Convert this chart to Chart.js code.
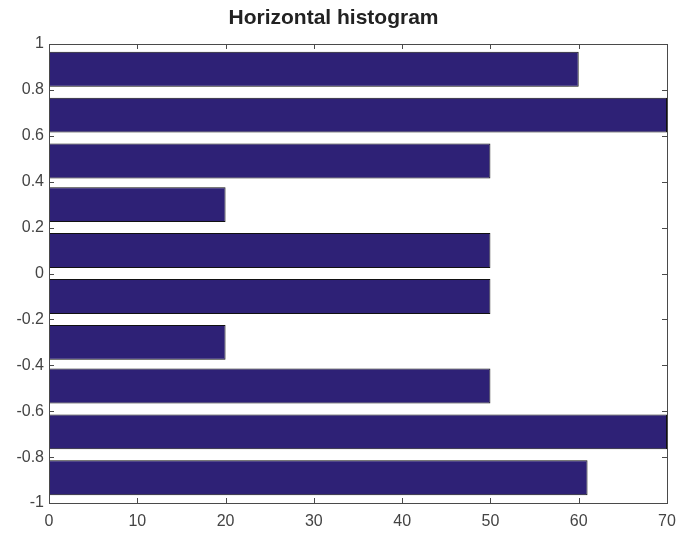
<!DOCTYPE html>
<html>
<head>
<meta charset="utf-8">
<script src="https://cdn.jsdelivr.net/npm/chart.js@4.4.1/dist/chart.umd.min.js"></script>
<style>
  html, body { margin: 0; padding: 0; background: #fff; overflow: hidden; }
  #wrap { width: 678px; height: 536px; position: relative; }
  #chart { display: block; }
</style>
</head>
<body>
<div id="wrap"><canvas id="chart"></canvas></div>
<script>
// bin centres (y) and counts (x) of the histogram, bottom to top
const binCenters = [-0.89, -0.69, -0.49, -0.30, -0.10, 0.10, 0.30, 0.49, 0.69, 0.89];
const binCounts = [61, 70, 50, 20, 50, 50, 20, 50, 70, 60];

const xTicks = [0, 10, 20, 30, 40, 50, 60, 70];
const yTicks = [-1, -0.8, -0.6, -0.4, -0.2, 0, 0.2, 0.4, 0.6, 0.8, 1];
const yTickLabels = ['-1', '-0.8', '-0.6', '-0.4', '-0.2', '0', '0.2', '0.4', '0.6', '0.8', '1'];

const BAR_COLOR = '#2e2176';
const AXIS_COLOR = '#4a4a4a';

// matlab style box with inward tick marks on every side
const boxTicks = {
  id: 'boxTicks',
  afterDatasetsDraw(chart) {
    const { ctx, chartArea: a, scales } = chart;
    const len = 5;
    ctx.save();
    ctx.strokeStyle = AXIS_COLOR;
    ctx.lineWidth = 1;
    ctx.beginPath();
    xTicks.forEach(v => {
      const px = Math.round(scales.x.getPixelForValue(v)) + 0.5;
      ctx.moveTo(px, a.bottom); ctx.lineTo(px, a.bottom - len);
      ctx.moveTo(px, a.top); ctx.lineTo(px, a.top + len);
    });
    yTicks.forEach(v => {
      const py = Math.round(scales.y.getPixelForValue(v)) + 0.5;
      ctx.moveTo(a.left, py); ctx.lineTo(a.left + len, py);
      ctx.moveTo(a.right, py); ctx.lineTo(a.right - len, py);
    });
    ctx.stroke();
    ctx.strokeRect(Math.round(a.left) + 0.5, Math.round(a.top) + 0.5,
      Math.round(a.right - a.left), Math.round(a.bottom - a.top));
    ctx.restore();
  }
};

new Chart(document.getElementById('chart'), {
  type: 'bar',
  data: {
    datasets: [{
      data: binCenters.map((c, i) => ({ x: binCounts[i], y: c })),
      backgroundColor: BAR_COLOR,
      borderColor: '#111',
      borderWidth: 1,
      borderSkipped: false,
      barPercentage: 0.8,
      categoryPercentage: 1
    }]
  },
  options: {
    indexAxis: 'y',
    responsive: true,
    maintainAspectRatio: false,
    animation: false,
    layout: { padding: { left: 0, right: 11, top: 0, bottom: 0 } },
    scales: {
      x: {
        type: 'linear',
        min: 0,
        max: 70,
        grid: { display: false, drawTicks: false },
        border: { display: false },
        afterBuildTicks: s => { s.ticks = xTicks.map(v => ({ value: v })); },
        afterFit: s => {
          s.height = 33;
          s.paddingLeft = 0;
          s.paddingRight = 0;
        },
        ticks: {
          padding: 9,
          color: '#444',
          font: { family: 'Liberation Sans, Arial, sans-serif', size: 16 },
          maxRotation: 0
        }
      },
      y: {
        type: 'linear',
        min: -1,
        max: 1,
        offset: false,
        grid: { display: false, drawTicks: false, offset: false },
        border: { display: false },
        afterBuildTicks: s => { s.ticks = yTicks.map(v => ({ value: v })); },
        afterFit: s => { s.width = 49; },
        ticks: {
          padding: 5,
          color: '#444',
          font: { family: 'Liberation Sans, Arial, sans-serif', size: 16 },
          callback: (v, i) => yTickLabels[i]
        }
      }
    },
    plugins: {
      legend: { display: false },
      tooltip: { enabled: false },
      title: {
        display: true,
        text: 'Horizontal histogram',
        color: '#222',
        font: { family: 'Liberation Sans, Arial, sans-serif', size: 21, weight: 'bold', lineHeight: '24px' },
        padding: { top: 6, bottom: 14 }
      }
    }
  },
  plugins: [boxTicks]
});
</script>
</body>
</html>
